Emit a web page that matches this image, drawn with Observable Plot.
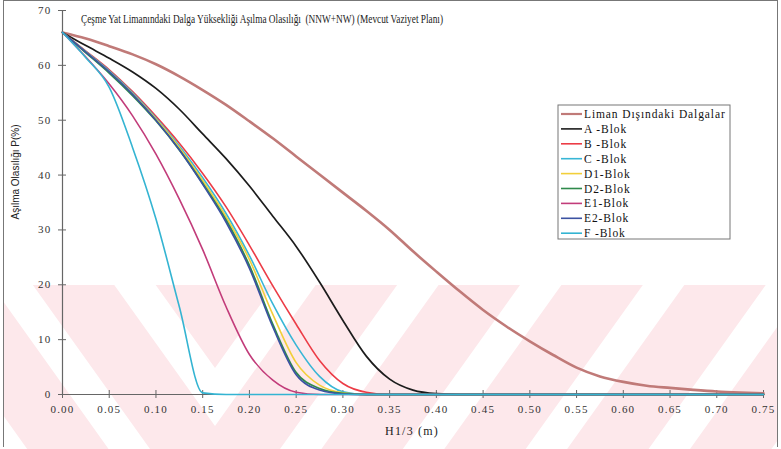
<!DOCTYPE html>
<html><head><meta charset="utf-8">
<script src="https://cdn.jsdelivr.net/npm/d3@7"></script>
<script src="https://cdn.jsdelivr.net/npm/@observablehq/plot@0.6"></script>
<style>
body{margin:0;background:#fff}
#wrap{position:relative;width:781px;height:449px;overflow:hidden;background:#fff}
#frame{position:absolute;left:3px;top:0px;width:773px;height:445px;border:1.5px solid #777;pointer-events:none}
#wrap svg{position:absolute;left:0;top:0}
</style></head><body>
<div id="wrap"><div id="frame"></div></div>
<script>
// H1/3 (m) sample positions
const hValues = [0,0.025,0.05,0.075,0.1,0.125,0.15,0.175,0.2,0.225,0.25,0.275,0.3,0.325,0.35,0.375,0.4,0.425,0.45,0.475,0.5,0.525,0.55,0.575,0.6,0.625,0.65,0.675,0.7,0.725,0.75];
const xTicks = [0,0.05,0.1,0.15,0.2,0.25,0.3,0.35,0.4,0.45,0.5,0.55,0.6,0.65,0.7,0.75];
const yTicks = [0,10,20,30,40,50,60,70];

const seriesNames = ["Liman Dışındaki Dalgalar","A -Blok","B -Blok","C -Blok","D1-Blok","D2-Blok","E1-Blok","E2-Blok","F -Blok"];
const seriesColors = ["#c07a78","#1c1c1c","#ec3c46","#38b6d6","#f2cf3a","#2f8a4c","#c23c7a","#3c52a2","#34b4d2"];
const seriesWidths = [2.6,1.7,1.6,1.6,1.6,1.8,1.6,1.6,1.6];

const liman = [66,64.9,63.5,62,60.2,58,55.5,52.8,49.8,46.7,43.4,40.1,36.8,33.5,30,26.1,22.4,18.8,15.4,12.4,9.7,7.2,4.9,3.3,2.3,1.6,1.2,0.85,0.55,0.35,0.2];
const blokA  = [66,63.6,61.3,58.8,55.8,52,47.5,43,38,32.5,27,20.5,13.5,7,2.8,0.8,0.15,0,0,0,0,0,0,0,0,0,0,0,0,0,0];
const blokB  = [66,62.6,59.2,55.2,50.7,45.8,40.3,34.2,27.2,19.8,12.8,6.2,2,0.4,0,0,0,0,0,0,0,0,0,0,0,0,0,0,0,0,0];
const blokC  = [66,62.5,59,55,50.4,45.3,39.5,33,25.3,16.5,9,3.3,0.5,0,0,0,0,0,0,0,0,0,0,0,0,0,0,0,0,0,0];
const blokD1 = [66,62.4,58.8,54.8,50.2,45,39,32.4,24.6,14.6,5.8,1.7,0.3,0,0,0,0,0,0,0,0,0,0,0,0,0,0,0,0,0,0];
const blokD2 = [66,62.3,58.6,54.5,49.9,44.6,38.5,31.8,23.5,12.8,4,1.1,0.2,0,0,0,0,0,0,0,0,0,0,0,0,0,0,0,0,0,0];
const blokE1 = [66,61.5,56.6,50.8,43.8,35.6,26.4,16,7.3,2.6,0.4,0,0,0,0,0,0,0,0,0,0,0,0,0,0,0,0,0,0,0,0];
const blokE2 = [66,62.4,58.8,54.7,50,44.6,38.3,31.4,23,12.3,3.6,0.8,0.1,0,0,0,0,0,0,0,0,0,0,0,0,0,0,0,0,0,0];
const blokF  = [66,61.4,56,45,32,16,0.3,0,0,0,0,0,0,0,0,0,0,0,0,0,0,0,0,0,0,0,0,0,0,0,0];

const seriesValues = [liman,blokA,blokB,blokC,blokD1,blokD2,blokE1,blokE2,blokF];

const titleText = "Çeşme Yat Limanındaki Dalga Yüksekliği Aşılma Olasılığı  (NNW+NW) (Mevcut Vaziyet Planı)";
const xTitle = "H1/3 (m)";
const yTitle = "Aşılma Olasılığı P(%)";

// faint watermark (scanned page background): pink chevron stripes
(function watermark() {
  const bg = d3.create("svg").attr("width", 781).attr("height", 449);
  const top = 285, vx = 215, k = 1.4, period = 172, white = 58, phase = 53;
  bg.append("clipPath").attr("id", "wm").append("rect")
    .attr("x", 4).attr("y", top).attr("width", 773).attr("height", 449 - top);
  const g = bg.append("g").attr("clip-path", "url(#wm)");
  g.append("rect").attr("x", 0).attr("y", top).attr("width", 781).attr("height", 449 - top).attr("fill", "#fde8eb");
  for (let u = phase; u < 1500; u += period) {
    const u1 = u - white / 2, u2 = u + white / 2;
    const pts = [[0, u1 - k * vx], [vx, u1], [781, u1 - k * (781 - vx)], [781, u2 - k * (781 - vx)], [vx, u2], [0, u2 - k * vx]];
    g.append("polygon").attr("points", pts.map(p => p.join(",")).join(" ")).attr("fill", "#fff");
  }
  document.getElementById("wrap").appendChild(bg.node());
})();

const lineMarks = seriesValues.map((vals, k) =>
  Plot.line(hValues.map((h, i) => ({h, p: vals[i]})), {
    x: "h", y: "p", stroke: seriesColors[k], strokeWidth: seriesWidths[k], curve: "monotone-x"
  })
);

const svg = Plot.plot({
  width: 781, height: 449,
  marginLeft: 62, marginRight: 18, marginTop: 10, marginBottom: 55,
  style: {fontFamily: "'Liberation Serif', 'Times New Roman', serif", fontSize: "11px", color: "#333", background: "transparent", letterSpacing: "1.2px"},
  x: {domain: [0, 0.75]},
  y: {domain: [0, 70]},
  marks: [
    Plot.ruleY([0], {stroke: "#666", strokeWidth: 1.2}),
    Plot.ruleX([0], {stroke: "#666", strokeWidth: 1.2}),
    Plot.ruleX(xTicks, {x: d => d, y1: 0, y2: 0, insetTop: 4, insetBottom: 4, stroke: "#666"}),
    Plot.ruleY(yTicks, {y: d => d, x1: 0, x2: 0, insetLeft: 4, insetRight: 4, stroke: "#666"}),
    Plot.axisX({ticks: xTicks, tickSize: 0, tickPadding: 11, tickFormat: d3.format(".2f"), label: null, fill: "#333"}),
    Plot.axisY({ticks: yTicks, tickSize: 0, tickPadding: 11, label: null, fill: "#333"}),
    ...lineMarks
  ]
});

const s = d3.select(svg);
// title
s.append("text").attr("x", 81).attr("y", 23).attr("text-anchor", "start")
  .attr("textLength", 362).attr("lengthAdjust", "spacingAndGlyphs")
  .style("font-family", "'Liberation Serif', serif").style("font-size", "11.5px")
  .style("letter-spacing", "0px").attr("fill", "#222").text(titleText);
// x title
s.append("text").attr("x", 412).attr("y", 435).attr("text-anchor", "middle")
  .style("font-size", "12px").style("letter-spacing", "1.2px").attr("fill", "#222").text(xTitle);
// y title
s.append("text").attr("transform", "translate(19,172) rotate(-90)").attr("text-anchor", "middle")
  .style("font-family", "'Liberation Sans', Arial, sans-serif").style("font-size", "10px")
  .style("letter-spacing", "0px").attr("fill", "#222").text(yTitle);
// legend
const lg = s.append("g");
lg.append("rect").attr("x", 558).attr("y", 105).attr("width", 172).attr("height", 134)
  .attr("fill", "#fff").attr("stroke", "#777").attr("stroke-width", 1);
seriesNames.forEach((name, i) => {
  const y = 114 + i * 14.9;
  lg.append("line").attr("x1", 561).attr("x2", 582).attr("y1", y).attr("y2", y)
    .attr("stroke", seriesColors[i]).attr("stroke-width", i === 0 ? 2.2 : 1.6);
  lg.append("text").attr("x", 584).attr("y", y + 4).attr("text-anchor", "start")
    .style("font-size", "11.5px").style("letter-spacing", "0.9px").attr("fill", "#111").text(name);
});

document.getElementById("wrap").appendChild(svg);
</script>
</body></html>
